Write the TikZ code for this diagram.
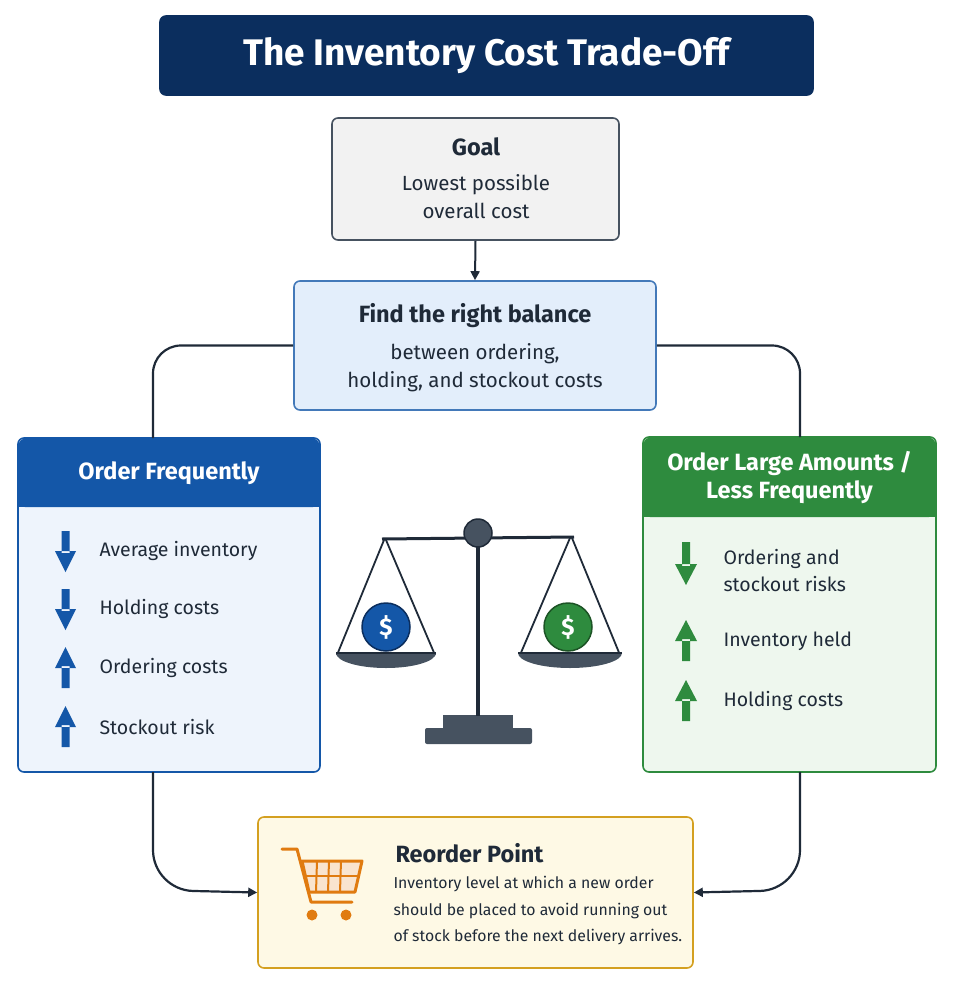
\documentclass[tikz,border=0pt]{standalone}
\usepackage{fontspec}
\setmainfont{Fira Sans}
\usetikzlibrary{arrows.meta}
\definecolor{navy}{HTML}{0B2E5E}
\definecolor{bblue}{HTML}{1457A8}
\definecolor{lblue}{HTML}{E3EEFB}
\definecolor{llblue}{HTML}{EEF4FC}
\definecolor{ggreen}{HTML}{2E8B3E}
\definecolor{lgreen}{HTML}{EEF7EE}
\definecolor{dark}{HTML}{1F2A38}
\definecolor{ygold}{HTML}{D4A020}
\definecolor{lyel}{HTML}{FEF9E5}
\definecolor{orng}{HTML}{E07B10}
\definecolor{slate}{HTML}{465260}
\begin{document}
\begin{tikzpicture}[x=1pt,y=-1pt,
  box/.style={rounded corners=6pt,line width=1.6pt},
  conn/.style={line width=2.2pt,draw=dark,rounded corners=28pt},
  tip/.style={-{Triangle[length=9pt,width=9pt]}},
  txt/.style={font=\fontsize{20.5}{28}\selectfont,text=dark,align=center},
  item/.style={font=\fontsize{19.5}{27}\selectfont,text=dark,anchor=west,align=left},
]
\useasboundingbox (0,0) rectangle (954,988);
% title
\node[box,fill=navy,draw=navy,minimum width=653pt,minimum height=79pt,font=\fontsize{37}{42}\selectfont\bfseries,text=white] (title) at (486.5,55.5) {The Inventory Cost Trade-Off};
% goal
\node[box,fill=gray!10,draw=slate,minimum width=287pt,minimum height=122pt] (goal) at (475.5,179) {};
\node[txt,font=\fontsize{23.5}{28}\selectfont\bfseries] (gt) at (476,147) {Goal};
\node[txt] (gs) at (476,197) {Lowest possible\\overall cost};
% balance
\node[box,fill=lblue,draw=bblue!80,minimum width=362pt,minimum height=129pt] (bal) at (475,345.5) {};
\node[txt,font=\fontsize{23.5}{28}\selectfont\bfseries] (bt) at (475,316) {Find the right balance};
\node[txt] (bs) at (475,368) {between ordering,\\holding, and stockout costs};
\draw[line width=2pt,draw=dark,tip] (goal.south) -- (bal.north);
% left box
\node[box,fill=llblue,draw=bblue,minimum width=302pt,minimum height=334pt] (lb) at (169,605) {};
\fill[bblue,rounded corners=6pt] (18.8,438.8) rectangle (319.2,507);
\fill[bblue] (18.8,490) rectangle (319.2,507);
\node[txt,text=white,font=\fontsize{23.5}{28}\selectfont\bfseries] (lt) at (169,473) {Order Frequently};
% right box
\node[box,fill=lgreen,draw=ggreen,minimum width=293pt,minimum height=335pt] (rb) at (789.5,604.5) {};
\fill[ggreen,rounded corners=6pt] (643.8,437.8) rectangle (935.2,517);
\fill[ggreen] (643.8,500) rectangle (935.2,517);
\node[txt,text=white,font=\fontsize{23.5}{28}\selectfont\bfseries] (rt) at (789.5,478) {Order Large Amounts /\\Less Frequently};
% connectors
\draw[conn] (bal.west) -- (153,345.5) -- (153,438);
\draw[conn] (bal.east) -- (800,345.5) -- (800,437);
% reorder box
\node[box,fill=lyel,draw=ygold,minimum width=435pt,minimum height=151pt] (ro) at (475.5,892.5) {};
\draw[conn,tip,rounded corners=40pt] (153,772) -- (153,890) -- (ro.west);
\draw[conn,tip,rounded corners=40pt] (800,772) -- (800,890) -- (ro.east);
\node[item,font=\fontsize{23.5}{28}\selectfont\bfseries] (rot) at (392,853) {Reorder Point};
\node[item,font=\fontsize{15.8}{26.5}\selectfont] (ros) at (390,911) {Inventory level at which a new order\\should be placed to avoid running out\\of stock before the next delivery arrives.};
% cart
\begin{scope}[line width=3pt,draw=orng,line cap=round,line join=round]
\draw[orng] (282,849) -- (297,849) -- (311,902) -- (352,902);
\fill[orng!20] (302,861) -- (362,861) -- (355,892) -- (309,892) -- cycle;
\draw[orng] (302,861) -- (362,861) -- (355,892) -- (309,892) -- cycle;
\foreach \x in {317,329,341} \draw[orng,line width=2pt] (\x,861) -- (\x-1,892);
\draw[orng,line width=2pt] (305,876) -- (359,876);
\fill[orng] (312,915) circle (5.5pt) (346,915) circle (5.5pt);
\end{scope}
% items left
\foreach \y/\d/\t [count=\i] in {551/1/Average inventory,609/1/Holding costs,668/0/Ordering costs,727/0/Stockout risk}{
  \ifnum\d=1
    \fill[bblue] (61.5,\y-20) rectangle (69.5,\y+2) (55,\y) -- (76,\y) -- (65.5,\y+21) -- cycle;
  \else
    \fill[bblue] (61.5,\y+20) rectangle (69.5,\y-2) (55,\y) -- (76,\y) -- (65.5,\y-21) -- cycle;
  \fi
  \node[item] (li\i) at (96,\y) {\t};
}
% items right
\fill[ggreen] (682,542) rectangle (690,566) (675,564) -- (697,564) -- (686,585) -- cycle;
\node[item] (ri1) at (720,571) {Ordering and\\stockout risks};
\foreach \y/\t [count=\i from 2] in {641/Inventory held,701/Holding costs}{
  \fill[ggreen] (682,\y+20) rectangle (690,\y-2) (675,\y) -- (697,\y) -- (686,\y-21) -- cycle;
  \node[item] (ri\i) at (720,\y) {\t};
}
% scale
\fill[slate] (443,715) rectangle (513,730);
\fill[slate,rounded corners=2pt] (425,728) rectangle (532,744);
\draw[dark,line width=3.5pt] (478,535) -- (478,716);
\draw[dark,line width=3pt] (382,539) -- (574,537);
\draw[dark,line width=1.8pt] (384,540) -- (337,655) (386,540) -- (435,655);
\draw[dark,line width=1.8pt] (570,538) -- (520,655) (572,538) -- (620,655);
\fill[slate] (336,653) -- (436,653) arc[start angle=0,end angle=-180,x radius=50pt,y radius=15pt] -- cycle;
\fill[slate] (518,653) -- (622,653) arc[start angle=0,end angle=-180,x radius=52pt,y radius=15pt] -- cycle;
\draw[dark,line width=1.5pt] (336,653) -- (436,653) (518,653) -- (622,653);
\filldraw[fill=slate,draw=dark,line width=1.5pt] (478,533) circle (14pt);
\filldraw[fill=bblue,draw=navy,line width=1.5pt] (386,627) circle (24pt);
\node[text=white,font=\fontsize{24}{26}\selectfont\bfseries] (c1) at (386,627) {\$};
\filldraw[fill=ggreen,draw=ggreen!60!black,line width=1.5pt] (568,627) circle (24pt);
\node[text=white,font=\fontsize{24}{26}\selectfont\bfseries] (c2) at (568,627) {\$};
\end{tikzpicture}
\end{document}
